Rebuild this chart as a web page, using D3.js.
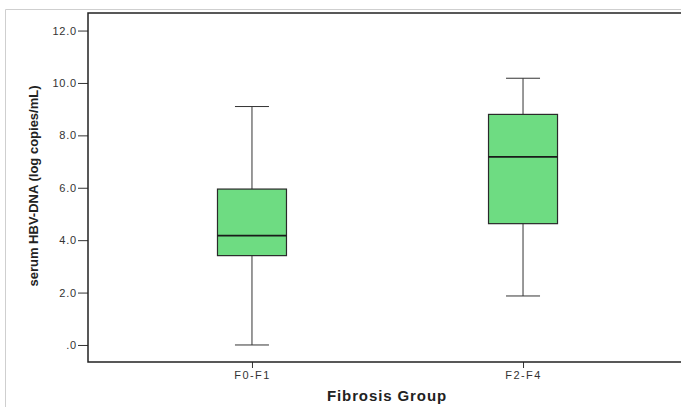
<!DOCTYPE html>
<html>
<head>
<meta charset="utf-8">
<script src="https://cdn.jsdelivr.net/npm/d3@7"></script>
<style>
  body { margin: 0; background: #fff; overflow: hidden; }
  svg { display: block; font-family: "Liberation Sans", Arial, sans-serif; }
</style>
</head>
<body>
<div id="chart"></div>
<script>
// data
const groups = ["F0-F1", "F2-F4"];
const whiskerLow = [0.0, 1.87];
const q1 = [3.41, 4.63];
const median = [4.17, 7.18];
const q3 = [5.95, 8.8];
const whiskerHigh = [9.1, 10.18];
const yTicks = [0, 2, 4, 6, 8, 10, 12];

const width = 681, height = 407;
const plot = {left: 88, top: 13, right: 687, bottom: 362};

const svg = d3.select("#chart")
  .append("svg")
  .attr("width", width)
  .attr("height", height);

// light outer frame
svg.append("path")
  .attr("d", `M5.5,${height}V9.5H${width}`)
  .attr("fill", "none")
  .attr("stroke", "#cfcfcf")
  .attr("stroke-width", 1);

const y = d3.scaleLinear()
  .domain([-0.65, 12.67])
  .range([plot.bottom, plot.top]);

const x = d3.scalePoint()
  .domain(groups)
  .range([plot.left, plot.right])
  .padding(0.605);

const boxW = 69, capW = 34;

// Y axis
const yAxis = svg.append("g")
  .attr("transform", `translate(${plot.left},0)`)
  .call(d3.axisLeft(y).tickValues(yTicks).tickSize(10).tickPadding(1)
    .tickFormat(d => d === 0 ? ".0" : d3.format(".1f")(d)));
yAxis.select(".domain").remove();
yAxis.selectAll("line").attr("stroke", "#333");
yAxis.selectAll("text").attr("fill", "#333")
  .style("font-size", "11px").style("letter-spacing", "0.8px");

// X axis
const xAxis = svg.append("g")
  .attr("transform", `translate(0,${plot.bottom})`)
  .call(d3.axisBottom(x).tickSize(6).tickPadding(3));
xAxis.select(".domain").remove();
xAxis.selectAll("line").attr("stroke", "#333");
xAxis.selectAll("text").attr("fill", "#333")
  .style("font-size", "11px").style("letter-spacing", "1.4px");

// plot frame (right side falls outside the picture)
svg.append("path")
  .attr("d", `M${width},${plot.top}H${plot.left}V${plot.bottom}H${width}`)
  .attr("fill", "none")
  .attr("stroke", "#222")
  .attr("stroke-width", 1.5);

// boxes
const g = svg.append("g");
groups.forEach((grp, i) => {
  const cx = x(grp);
  // whiskers
  g.append("line")
    .attr("x1", cx).attr("x2", cx)
    .attr("y1", y(whiskerHigh[i])).attr("y2", y(q3[i]))
    .attr("stroke", "#333");
  g.append("line")
    .attr("x1", cx).attr("x2", cx)
    .attr("y1", y(q1[i])).attr("y2", y(whiskerLow[i]))
    .attr("stroke", "#333");
  [whiskerHigh[i], whiskerLow[i]].forEach(v => {
    g.append("line")
      .attr("x1", cx - capW / 2).attr("x2", cx + capW / 2)
      .attr("y1", y(v)).attr("y2", y(v))
      .attr("stroke", "#333");
  });
  g.append("rect")
    .attr("x", cx - boxW / 2)
    .attr("y", y(q3[i]))
    .attr("width", boxW)
    .attr("height", y(q1[i]) - y(q3[i]))
    .attr("fill", "#6edc82")
    .attr("stroke", "#2a2a2a")
    .attr("stroke-width", 1.2);
  g.append("line")
    .attr("x1", cx - boxW / 2).attr("x2", cx + boxW / 2)
    .attr("y1", y(median[i])).attr("y2", y(median[i]))
    .attr("stroke", "#1a1a1a")
    .attr("stroke-width", 1.8);
});

// axis titles
svg.append("text")
  .attr("transform", `translate(38,186) rotate(-90)`)
  .attr("text-anchor", "middle")
  .style("font-size", "13px")
  .style("font-weight", "bold")
  .attr("fill", "#222")
  .text("serum HBV-DNA (log copies/mL)");

svg.append("text")
  .attr("x", 387)
  .attr("y", 401)
  .attr("text-anchor", "middle")
  .style("font-size", "15px")
  .style("font-weight", "bold")
  .style("letter-spacing", "0.9px")
  .attr("fill", "#222")
  .text("Fibrosis Group");
</script>
</body>
</html>
